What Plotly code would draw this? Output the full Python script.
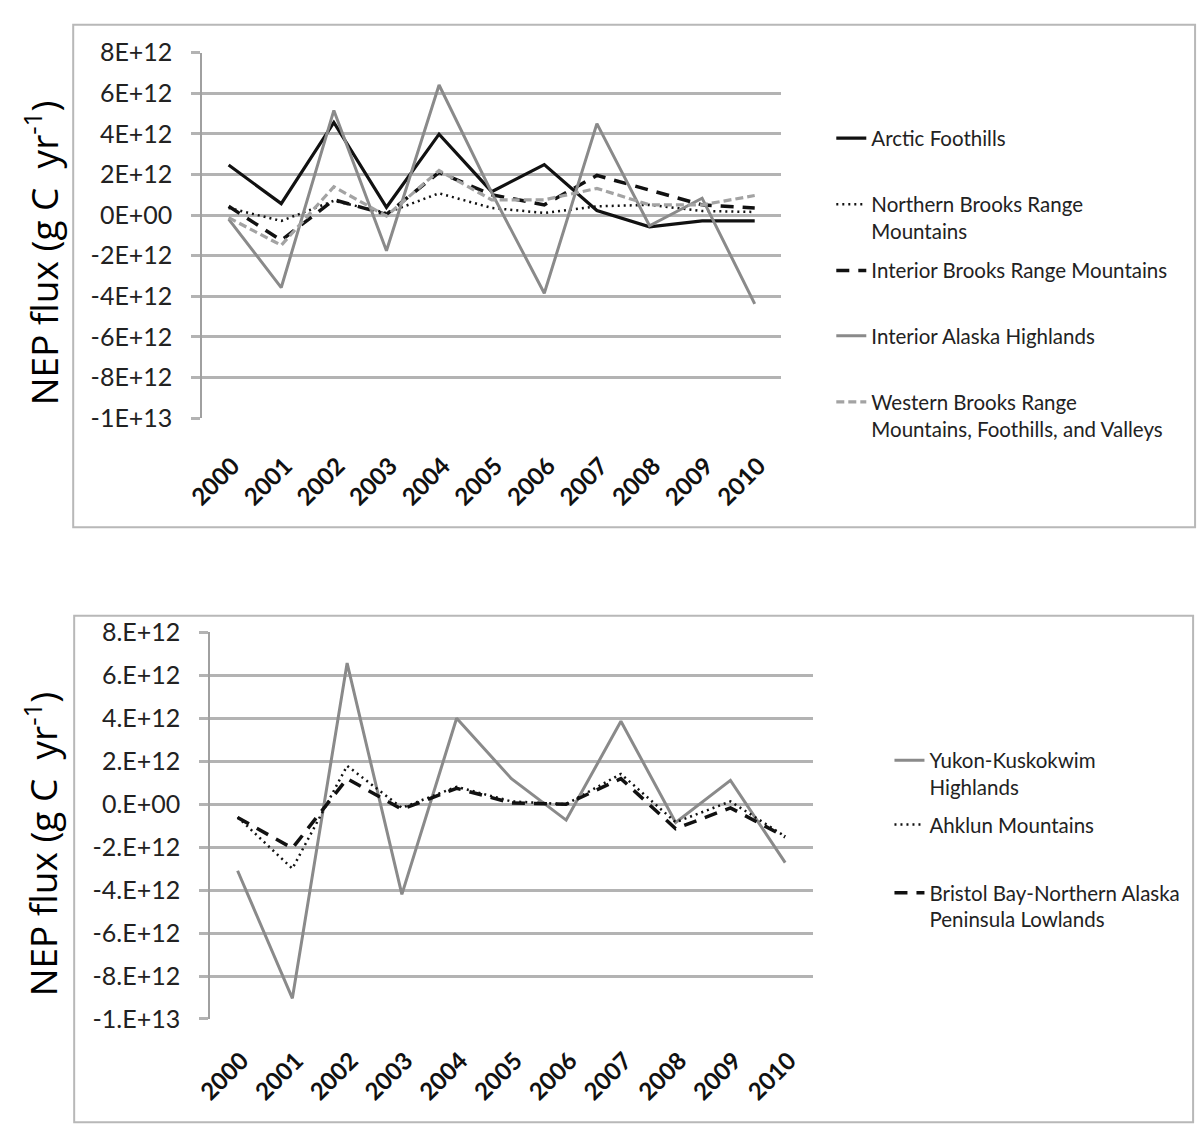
import plotly.graph_objects as go

W, H = 1200, 1143

years = [str(y) for y in range(2000, 2011)]

# ---- top panel (g C / yr) ----
arctic_foothills = [2.46e12, 0.56e12, 4.56e12, 0.38e12, 3.98e12, 1.15e12, 2.48e12, 0.22e12, -0.58e12, -0.29e12, -0.29e12]
northern_brooks = [0.35e12, -0.29e12, 0.70e12, 0.10e12, 1.07e12, 0.35e12, 0.10e12, 0.43e12, 0.50e12, 0.20e12, 0.15e12]
interior_brooks = [0.43e12, -1.25e12, 0.75e12, 0.03e12, 2.10e12, 1.00e12, 0.50e12, 1.95e12, 1.23e12, 0.50e12, 0.35e12]
interior_alaska = [-0.20e12, -3.57e12, 5.15e12, -1.76e12, 6.40e12, 1.10e12, -3.85e12, 4.50e12, -0.53e12, 0.83e12, -4.37e12]
western_brooks = [-0.13e12, -1.49e12, 1.39e12, -0.05e12, 2.19e12, 0.75e12, 0.75e12, 1.31e12, 0.50e12, 0.50e12, 0.96e12]

# ---- bottom panel ----
yukon_kuskokwim = [-3.10e12, -9.04e12, 6.57e12, -4.20e12, 4.00e12, 1.19e12, -0.74e12, 3.86e12, -0.85e12, 1.11e12, -2.72e12]
ahklun = [-0.60e12, -3.00e12, 1.79e12, -0.17e12, 0.81e12, 0.13e12, 0.00e12, 1.41e12, -0.84e12, 0.13e12, -1.50e12]
bristol_bay = [-0.62e12, -2.05e12, 1.19e12, -0.24e12, 0.74e12, 0.06e12, 0.00e12, 1.19e12, -1.14e12, -0.17e12, -1.52e12]

y_tickvals = [-1e13, -8e12, -6e12, -4e12, -2e12, 0, 2e12, 4e12, 6e12, 8e12]
top_ticktext = ["-1E+13", "-8E+12", "-6E+12", "-4E+12", "-2E+12", "0E+00", "2E+12", "4E+12", "6E+12", "8E+12"]
bottom_ticktext = ["-1.E+13", "-8.E+12", "-6.E+12", "-4.E+12", "-2.E+12", "0.E+00", "2.E+12", "4.E+12", "6.E+12", "8.E+12"]

top_names = ["Arctic Foothills", "Northern Brooks Range<br>Mountains", "Interior Brooks Range Mountains",
             "Interior Alaska Highlands", "Western Brooks Range<br>Mountains, Foothills, and Valleys"]
bottom_names = ["Yukon-Kuskokwim<br>Highlands", "Ahklun Mountains", "Bristol Bay-Northern Alaska<br>Peninsula Lowlands"]

BLACK = "#111111"
GRAY = "#8a8a8a"
LGRAY = "#a3a3a3"
GRID = "#b3b3b3"

fig = go.Figure()

top_series = [
    (arctic_foothills, dict(color=BLACK, width=3.2)),
    (northern_brooks, dict(color=BLACK, width=2.5, dash="2px,4px")),
    (interior_brooks, dict(color=BLACK, width=3.5, dash="13px,9px")),
    (interior_alaska, dict(color=GRAY, width=3)),
    (western_brooks, dict(color=LGRAY, width=3.2, dash="8px,4px")),
]
for i, ((vals, ln), name) in enumerate(zip(top_series, top_names)):
    fig.add_trace(go.Scatter(x=years, y=vals, mode="lines", name=name, line=ln,
                             xaxis="x", yaxis="y", legend="legend" if i == 0 else f"legend{i+1}"))

bottom_series = [
    (yukon_kuskokwim, dict(color=GRAY, width=3)),
    (ahklun, dict(color=BLACK, width=2.5, dash="2px,4px")),
    (bristol_bay, dict(color=BLACK, width=3.5, dash="13px,9px")),
]
for j, ((vals, ln), name) in enumerate(zip(bottom_series, bottom_names)):
    fig.add_trace(go.Scatter(x=years, y=vals, mode="lines", name=name, line=ln,
                             xaxis="x2", yaxis="y2", legend=f"legend{j+6}"))

def px_x(p):
    return p / W

def px_y(p):
    return 1 - p / H

tick_font = dict(family="Lato", size=25, color="#222222")
xtick_font = dict(family="Lato", size=24, color="#111111", weight="bold")

common_x = dict(type="category", showgrid=False, zeroline=False, showline=False, ticks="",
                tickangle=-45, tickfont=xtick_font, range=[-0.5, 10.5], fixedrange=True)
common_y = dict(range=[-1e13, 8e12], tickvals=y_tickvals, showgrid=True, gridcolor=GRID, gridwidth=2.5,
                zeroline=False, showline=True, linecolor="#a0a0a0", linewidth=2, ticks="outside",
                ticklen=9, tickcolor=GRID, tickwidth=2.5, tickfont=tick_font, ticklabelstandoff=14)

fig.update_layout(
    width=W, height=H, margin=dict(l=0, r=0, t=0, b=0),
    paper_bgcolor="white", plot_bgcolor="white",
    xaxis=dict(domain=[px_x(188), px_x(775)], anchor="y", ticklabelstandoff=28, ticklabelshift=4, **common_x),
    yaxis=dict(domain=[px_y(413), px_y(37.5)], anchor="x", ticktext=top_ticktext, **common_y),
    xaxis2=dict(domain=[px_x(196), px_x(807)], anchor="y2", ticklabelstandoff=22, ticklabelshift=4, **common_x),
    yaxis2=dict(domain=[px_y(1030), px_y(633)], anchor="x2", ticktext=bottom_ticktext, **common_y),
    showlegend=True,
)

legend_font = dict(family="Lato", size=20.5, color="#222222")
top_leg_y = [122, 190, 258, 325, 393]
bottom_leg_y = [761, 827, 897]
for i, cy in enumerate(top_leg_y):
    key = "legend" if i == 0 else f"legend{i+1}"
    fig.update_layout({key: dict(x=px_x(826), y=px_y(cy - 17), xanchor="left", yanchor="top",
                                 font=legend_font, bgcolor="rgba(0,0,0,0)", borderwidth=0,
                                 valign="top", itemclick=False, itemdoubleclick=False)})
for j, cy in enumerate(bottom_leg_y):
    key = f"legend{j+6}"
    fig.update_layout({key: dict(x=px_x(885), y=px_y(cy - 17), xanchor="left", yanchor="top",
                                 font=legend_font, bgcolor="rgba(0,0,0,0)", borderwidth=0,
                                 valign="top", itemclick=False, itemdoubleclick=False)})

# panel frames
fig.add_shape(type="rect", xref="paper", yref="paper", x0=px_x(57), x1=px_x(1195), y0=px_y(525), y1=px_y(9),
              line=dict(color="#b8b8b8", width=2), fillcolor="rgba(0,0,0,0)", layer="below")
fig.add_shape(type="rect", xref="paper", yref="paper", x0=px_x(58), x1=px_x(1193), y0=px_y(1136), y1=px_y(616),
              line=dict(color="#b8b8b8", width=2), fillcolor="rgba(0,0,0,0)", layer="below")

title_text = "NEP flux (g C\u00a0\u00a0yr<sup>-1</sup>)"
title_font = dict(family="Open Sans", size=37, color="#000000")
fig.add_annotation(text=title_text, xref="paper", yref="paper", x=px_x(25), y=px_y(243),
                   xanchor="center", yanchor="middle", textangle=-90, showarrow=False, font=title_font)
fig.add_annotation(text=title_text, xref="paper", yref="paper", x=px_x(25), y=px_y(850),
                   xanchor="center", yanchor="middle", textangle=-90, showarrow=False, font=title_font)

fig.write_html("out.html", config={"displayModeBar": False},
               post_script="document.body.style.margin='0';document.body.style.overflow='hidden';")
